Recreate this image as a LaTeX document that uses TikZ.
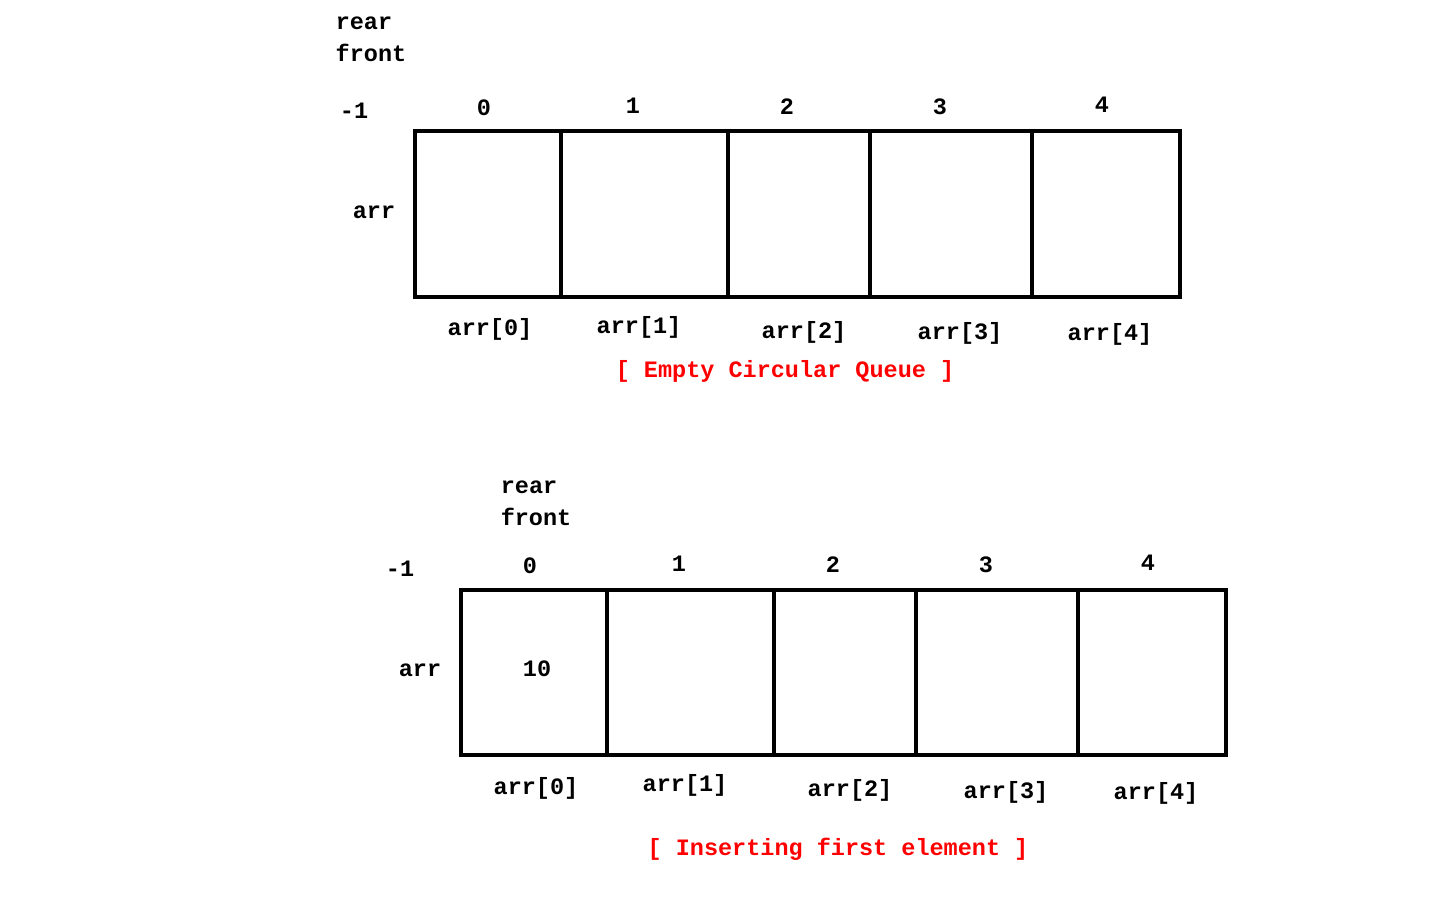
\documentclass[tikz,border=0pt]{standalone}
\usepackage{fontspec}
\setmainfont{Liberation Mono}
\usepackage{xcolor}
\definecolor{captionred}{HTML}{FF0000}
\tikzset{
  lbl/.style={inner sep=0pt,font=\fontsize{23.5}{28}\selectfont\bfseries},
  caption/.style={lbl,text=captionred},
  cellbox/.style={draw,line width=3.6pt}
}

\begin{document}
\begin{tikzpicture}[x=1pt,y=-1pt]
  \useasboundingbox (0,0) rectangle (1440,900);
  % empty queue
  \draw[cellbox] (415,131) rectangle (1180,297);
  \draw[cellbox] (561,131) -- (561,297);
  \draw[cellbox] (728,131) -- (728,297);
  \draw[cellbox] (870,131) -- (870,297);
  \draw[cellbox] (1032,131) -- (1032,297);
  \node[lbl] (rearA) at (364,23) {rear};
  \node[lbl] (frontA) at (371,53) {front};
  \node[lbl] (mA) at (354,111) {-1};
  \node[lbl] (iA0) at (484,108) {0};
  \node[lbl] (iA1) at (633,106) {1};
  \node[lbl] (iA2) at (787,107) {2};
  \node[lbl] (iA3) at (940,107) {3};
  \node[lbl] (iA4) at (1102,105) {4};
  \node[lbl] (arrA) at (374,212) {arr};
  \node[lbl] (eA0) at (490,329) {arr[0]};
  \node[lbl] (eA1) at (639,327) {arr[1]};
  \node[lbl] (eA2) at (804,332) {arr[2]};
  \node[lbl] (eA3) at (960,333) {arr[3]};
  \node[lbl] (eA4) at (1110,334) {arr[4]};
  \node[caption] (capA) at (785,371) {[ Empty Circular Queue ]};
  % after first insert
  \draw[cellbox] (461,590) rectangle (1226,755);
  \draw[cellbox] (607,590) -- (607,755);
  \draw[cellbox] (774,590) -- (774,755);
  \draw[cellbox] (916,590) -- (916,755);
  \draw[cellbox] (1078,590) -- (1078,755);
  \node[lbl] (rearB) at (529,487) {rear};
  \node[lbl] (frontB) at (536,517) {front};
  \node[lbl] (mB) at (400,569) {-1};
  \node[lbl] (iB0) at (530,566) {0};
  \node[lbl] (iB1) at (679,564) {1};
  \node[lbl] (iB2) at (833,565) {2};
  \node[lbl] (iB3) at (986,565) {3};
  \node[lbl] (iB4) at (1148,563) {4};
  \node[lbl] (arrB) at (420,670) {arr};
  \node[lbl] (valB0) at (537,669) {10};
  \node[lbl] (eB0) at (536,788) {arr[0]};
  \node[lbl] (eB1) at (685,785) {arr[1]};
  \node[lbl] (eB2) at (850,790) {arr[2]};
  \node[lbl] (eB3) at (1006,792) {arr[3]};
  \node[lbl] (eB4) at (1156,793) {arr[4]};
  \node[caption] (capB) at (838,849) {[ Inserting first element ]};
\end{tikzpicture}
\end{document}
